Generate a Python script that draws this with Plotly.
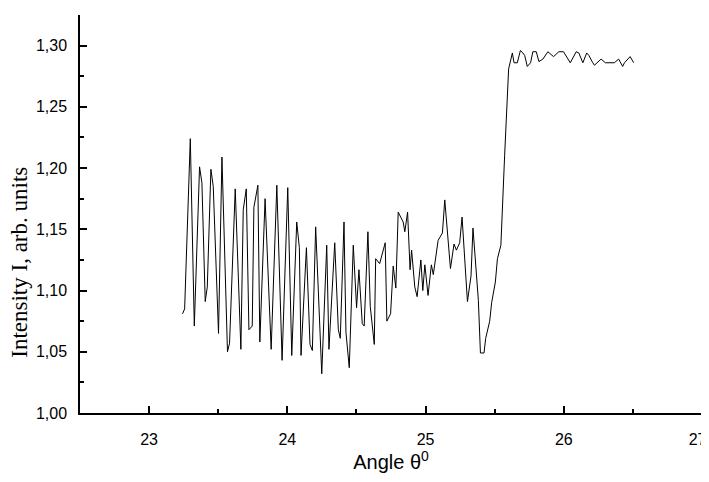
import plotly.graph_objects as go

# Angle (degrees) and intensity
angle = [
    23.242, 23.257, 23.298, 23.327, 23.365, 23.382, 23.406, 23.421, 23.447, 23.464,
    23.502, 23.527, 23.567, 23.582, 23.623, 23.664, 23.681, 23.703, 23.722, 23.746,
    23.758, 23.787, 23.801, 23.839, 23.883, 23.924, 23.962, 24.003, 24.032, 24.068,
    24.087, 24.099, 24.138, 24.164, 24.181, 24.205, 24.249, 24.285, 24.301, 24.343,
    24.369, 24.383, 24.410, 24.424, 24.448, 24.477, 24.501, 24.518, 24.542, 24.556,
    24.583, 24.600, 24.629, 24.639, 24.668, 24.708, 24.720, 24.747, 24.766, 24.785,
    24.802, 24.838, 24.850, 24.870, 24.888, 24.899, 24.922, 24.939, 24.966, 24.980,
    24.995, 25.018, 25.042, 25.056, 25.091, 25.122, 25.139, 25.180, 25.206, 25.223,
    25.247, 25.264, 25.303, 25.329, 25.343, 25.382, 25.397, 25.423, 25.435, 25.464,
    25.478, 25.505, 25.520, 25.545, 25.572, 25.596, 25.601, 25.628, 25.640, 25.664,
    25.686, 25.704, 25.717, 25.736, 25.760, 25.776, 25.801, 25.820, 25.849, 25.885,
    25.926, 25.964, 25.998, 26.047, 26.090, 26.109, 26.138, 26.166, 26.181, 26.210,
    26.222, 26.270, 26.301, 26.366, 26.397, 26.426, 26.439, 26.480, 26.506,
]
intensity = [
    1.081, 1.085, 1.224, 1.071, 1.201, 1.188, 1.091, 1.103, 1.199, 1.185,
    1.065, 1.209, 1.050, 1.057, 1.183, 1.052, 1.166, 1.183, 1.068, 1.071,
    1.168, 1.186, 1.058, 1.175, 1.052, 1.186, 1.043, 1.184, 1.047, 1.156,
    1.135, 1.047, 1.135, 1.056, 1.051, 1.152, 1.032, 1.137, 1.052, 1.139,
    1.068, 1.061, 1.156, 1.066, 1.037, 1.137, 1.086, 1.117, 1.073, 1.071,
    1.148, 1.087, 1.056, 1.126, 1.122, 1.139, 1.075, 1.081, 1.120, 1.102,
    1.164, 1.156, 1.148, 1.164, 1.117, 1.133, 1.103, 1.095, 1.125, 1.100,
    1.121, 1.096, 1.121, 1.113, 1.141, 1.147, 1.174, 1.118, 1.138, 1.133,
    1.139, 1.160, 1.091, 1.112, 1.151, 1.092, 1.049, 1.049, 1.061, 1.075,
    1.090, 1.107, 1.126, 1.137, 1.210, 1.273, 1.281, 1.294, 1.286, 1.286,
    1.296, 1.294, 1.292, 1.283, 1.286, 1.295, 1.295, 1.287, 1.289, 1.295,
    1.291, 1.295, 1.295, 1.286, 1.295, 1.294, 1.286, 1.294, 1.292, 1.286,
    1.284, 1.289, 1.286, 1.286, 1.289, 1.283, 1.286, 1.291, 1.286,
]

x_ticks = [23, 24, 25, 26, 27]
# the last label gets a trailing figure space so it stays inside the window
x_labels = ['23', '24', '25', '26', '27\u2007']
y_ticks = [1.00, 1.05, 1.10, 1.15, 1.20, 1.25, 1.30]

fig = go.Figure()
fig.add_trace(go.Scatter(x=angle, y=intensity, mode='lines',
                         line=dict(color='black', width=1),
                         showlegend=False, hoverinfo='skip'))

sans = 'Liberation Sans, Arial, sans-serif'

# the page body adds an 8px margin, so the figure is a bit smaller than the window
fig.update_layout(
    width=701, height=466,
    margin=dict(l=72, r=7, t=7, b=61),
    plot_bgcolor='white', paper_bgcolor='white',
    separators=', ',
    xaxis=dict(
        range=[22.5, 27], tickvals=x_ticks, ticktext=x_labels, ticks='inside', ticklen=7,
        tickwidth=1.5, tickcolor='black', showline=True, linecolor='black', linewidth=1.5,
        showgrid=False, zeroline=False, automargin=False, ticklabeloverflow='allow',
        tickfont=dict(family=sans, size=16, color='black'), ticklabelstandoff=11,
        minor=dict(tickvals=[22.5, 23.5, 24.5, 25.5, 26.5], ticks='inside', ticklen=4,
                   tickwidth=1.5, tickcolor='black', showgrid=False),
        title=dict(text='Angle θ<sup>0</sup>', standoff=7,
                   font=dict(family=sans, size=20, color='black')),
    ),
    yaxis=dict(
        range=[1.0, 1.325], tickvals=y_ticks, tickformat='.2f', ticks='inside', ticklen=7,
        tickwidth=1.5, tickcolor='black', showline=True, linecolor='black', linewidth=1.5,
        showgrid=False, zeroline=False, automargin=False,
        tickfont=dict(family=sans, size=16, color='black'),
        ticklabelstandoff=8,
        minor=dict(tickvals=[1.025, 1.075, 1.125, 1.175, 1.225, 1.275, 1.325], ticks='inside',
                   ticklen=4, tickwidth=1.5, tickcolor='black', showgrid=False),
    ),
)

fig.add_annotation(text='Intensity I, arb. units', xref='paper', yref='paper',
                   x=-0.0965, y=0.38, xanchor='center', yanchor='middle', textangle=-90,
                   showarrow=False,
                   font=dict(family='Liberation Serif, Times New Roman, serif', size=23, color='black'))

fig.write_html("out.html")
